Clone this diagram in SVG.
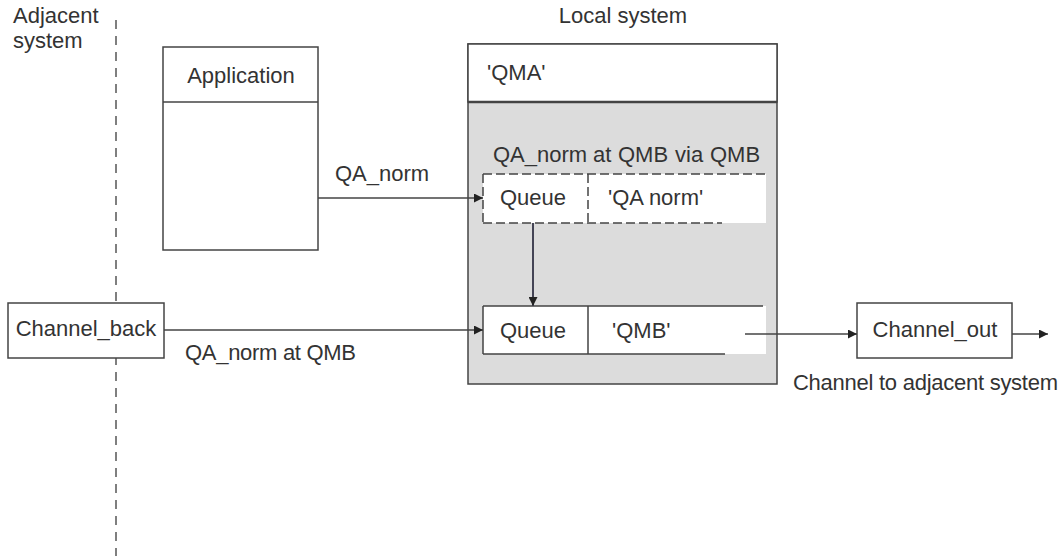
<svg xmlns="http://www.w3.org/2000/svg" width="1063" height="558" viewBox="0 0 1063 558">
<style>
text{font-family:"Liberation Sans",Arial,sans-serif;font-size:22px;fill:#333}
.box{fill:#fff;stroke:#444;stroke-width:1.5}
.ln{fill:none;stroke:#444;stroke-width:1.5}
.dash{fill:none;stroke:#444;stroke-width:1.5;stroke-dasharray:9 4}
.mid{text-anchor:middle}
</style>
<defs>
<marker id="ah" viewBox="0 0 10 10" refX="10" refY="5" markerWidth="9" markerHeight="9" markerUnits="userSpaceOnUse" orient="auto">
<path d="M0,0 L10,5 L0,10 Z" fill="#222"/>
</marker>
</defs>
<rect width="1063" height="558" fill="#fff"/>
<g id="boundary">
<line x1="116" y1="20" x2="116" y2="556" stroke="#555" stroke-width="1.5" stroke-dasharray="9 7"/>
<text x="13" y="23">Adjacent</text>
<text x="13" y="48">system</text>
</g>
<g id="local-system">
<text class="mid" x="623" y="23">Local system</text>
<rect x="468" y="44" width="309" height="340" fill="#dcdcdc" stroke="#444" stroke-width="1.5"/>
<rect x="468" y="44" width="309" height="58" class="box"/>
<line x1="468" y1="102" x2="777" y2="102" stroke="#444" stroke-width="2.5"/>
<text x="487" y="80">'QMA'</text>
<text y="162"><tspan x="493">QA_norm</tspan><tspan x="593">at</tspan><tspan x="618">QMB</tspan><tspan x="675">via</tspan><tspan x="710">QMB</tspan></text>
</g>
<g id="application">
<rect x="163" y="47" width="155" height="203" class="box"/>
<line x1="163" y1="102" x2="318" y2="102" class="ln"/>
<text class="mid" x="241" y="83">Application</text>
</g>
<g id="queue-qa-norm">
<rect x="483" y="174" width="283" height="49" fill="#fff"/>
<path d="M483,174 H766 M483,223 H722 M483,174 V223 M588,174 V223" class="dash"/>
<text class="mid" x="533" y="205">Queue</text>
<text x="608" y="205">'QA norm'</text>
</g>
<g id="queue-qmb">
<rect x="483" y="306" width="283" height="48" fill="#fff"/>
<path d="M483,306 H763 M483,354 H725 M483,306 V354 M588,306 V354" class="ln"/>
<text class="mid" x="533" y="338">Queue</text>
<text x="612" y="338">'QMB'</text>
</g>
<g id="channel-back">
<rect x="8" y="303" width="156" height="55" class="box"/>
<text class="mid" x="86" y="336">Channel_back</text>
</g>
<g id="channel-out">
<rect x="857" y="303" width="155" height="55" class="box"/>
<text class="mid" x="935" y="337">Channel_out</text>
</g>
<g id="connectors">
<line x1="318" y1="198" x2="483" y2="198" class="ln" marker-end="url(#ah)"/>
<text x="335" y="181">QA_norm</text>
<line x1="533" y1="223" x2="533" y2="306" stroke="#445" stroke-width="2" marker-end="url(#ah)"/>
<line x1="164" y1="330" x2="483" y2="330" class="ln" marker-end="url(#ah)"/>
<text x="185" y="360" textLength="171" lengthAdjust="spacing">QA_norm at QMB</text>
<line x1="745" y1="334" x2="857" y2="334" class="ln" marker-end="url(#ah)"/>
<line x1="1012" y1="334" x2="1048" y2="334" class="ln" marker-end="url(#ah)"/>
<text x="793" y="390" textLength="265" lengthAdjust="spacing">Channel to adjacent system</text>
</g>
</svg>
